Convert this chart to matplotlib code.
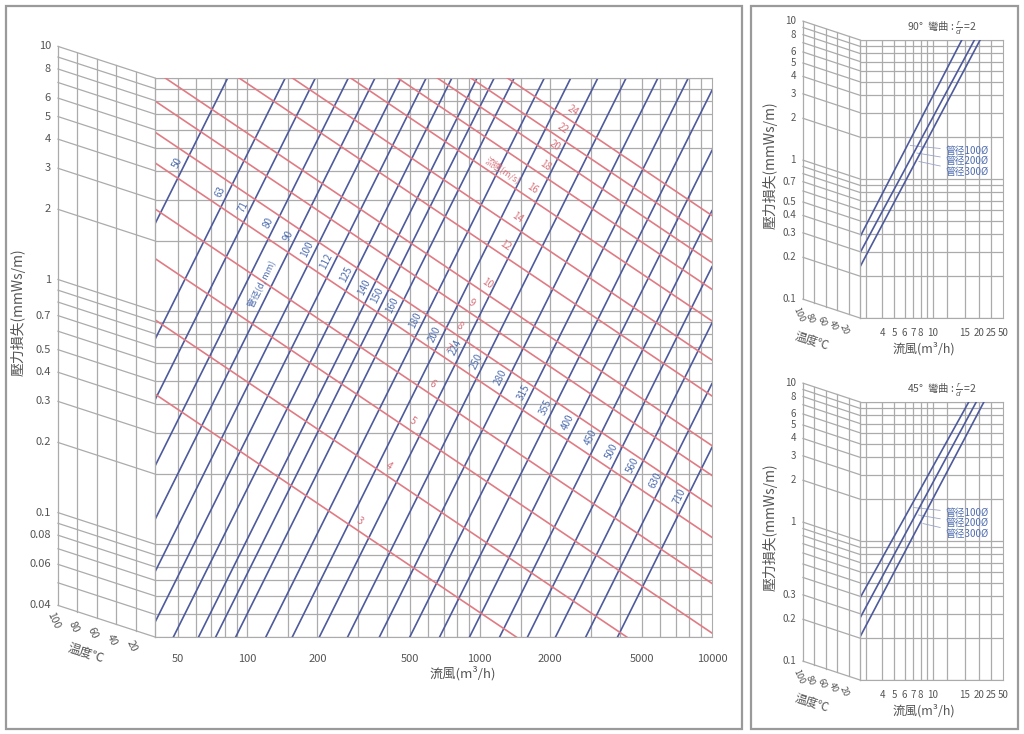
import numpy as np
import matplotlib
matplotlib.use("Agg")
import matplotlib.pyplot as plt
from matplotlib.patches import Rectangle
from matplotlib.ticker import NullLocator

plt.rcParams["font.family"] = ["Noto Sans CJK TC", "DejaVu Sans"]
plt.rcParams["mathtext.fontset"] = "dejavusans"

W, H = 1024, 734

# ---- main chart: friction loss of round ducts ----
flow_ticks = [50, 100, 200, 500, 1000, 2000, 5000, 10000]
flow_grid = [50, 60, 70, 80, 90, 100, 150, 200, 300, 400, 500, 600, 700, 800, 900,
             1000, 1500, 2000, 3000, 4000, 5000, 6000, 7000, 8000, 9000]
loss_grid = [0.04, 0.05, 0.06, 0.07, 0.08, 0.09, 0.1, 0.2, 0.3, 0.4, 0.5, 0.6, 0.7,
             0.8, 0.9, 1, 2, 3, 4, 5, 6, 7, 8, 9, 10]
loss_ticks = [10, 8, 6, 5, 4, 3, 2, 1, 0.7, 0.5, 0.4, 0.3, 0.2, 0.1, 0.08, 0.06, 0.04]
temp_ticks = [100, 80, 60, 40, 20]

duct_d = [50, 63, 71, 80, 90, 100, 112, 125, 140, 150, 160, 180, 200, 224, 250, 280,
          315, 355, 400, 450, 500, 560, 630, 710]
# flow (m3/h) at which each diameter line crosses 1 mmWs/m
duct_q1 = [26, 46, 62, 86, 112, 145, 186, 240, 308, 365, 445, 600, 780, 1020, 1350,
           1850, 2500, 3360, 4520, 6090, 8030, 10600, 14300, 19600]
duct_slope = 2.0

vel = [3, 4, 5, 6, 7, 8, 9, 10, 12, 14, 16, 18, 20, 22, 24]
# one point read on each velocity line (flow m3/h, loss mmWs/m)
vel_q = [305, 407, 516, 623, 723, 822, 926, 1075, 1285, 1447, 1678, 1910, 2108, 2283, 2520]
vel_p = [0.113, 0.194, 0.303, 0.436, 0.622, 0.773, 0.971, 1.18, 1.71, 2.25, 3.0, 3.76,
         4.58, 5.42, 6.47]
vel_slope = -0.67

# ---- small charts: bends ----
bend_flow_ticks = [4, 5, 6, 7, 8, 10, 15, 20, 25, 50]
bend_flow_grid = [3, 4, 5, 6, 7, 8, 9, 10, 12, 15, 20, 25]
bend_loss_grid = [0.1, 0.2, 0.3, 0.4, 0.5, 0.6, 0.7, 0.8, 0.9, 1, 2, 3, 4, 5, 6, 7, 8, 9, 10]
b90_ticks = [10, 8, 6, 5, 4, 3, 2, 1, 0.7, 0.5, 0.4, 0.3, 0.2, 0.1]
b45_ticks = [10, 8, 6, 5, 4, 3, 2, 1, 0.3, 0.2, 0.1]
bend_names = ["管径100Ø", "管径200Ø", "管径300Ø"]
b90_q0 = [2.69, 2.69, 2.69]
b90_p0 = [0.383, 0.294, 0.233]
b90_q1 = [14.4, 18.2, 20.4]
b90_p1 = [10, 10, 10]
b45_q0 = [2.69, 2.69, 2.69]
b45_p0 = [0.389, 0.279, 0.204]
b45_q1 = [16.2, 18.9, 21.9]
b45_p1 = [10, 10, 10]

GRID = "#ababab"
BLUE = "#4d5a9c"
BLUE_TXT = "#4f6db0"
RED = "#e07b84"
RED_TXT = "#d9707a"
TXT = "#555555"
T0 = 273.0
r100 = (T0 + 100) / T0


def box(l, t, r, b):
    return [l / W, 1 - b / H, (r - l) / W, (b - t) / H]


def fpos(x, y):
    return x / W, 1 - y / H


def temp_panel(ax, grid_vals, lo, hi, tick_vals, fs):
    ax.set_xlim(100, 0)
    ax.set_yscale("log")
    ax.set_ylim(lo, hi)
    ax.axis("off")
    for p in grid_vals:
        ax.plot([100, 0], [p * r100, p], color=GRID, lw=0.9, clip_on=False)
    for t in temp_ticks + [0]:
        f = r100 ** (t / 100)
        ax.plot([t, t], [lo * f, hi * f], color=GRID, lw=0.9, clip_on=False)
    for v in tick_vals:
        ax.annotate(f"{v:g}", (100, v * r100), xytext=(-5, 0), textcoords="offset points",
                    ha="right", va="center", fontsize=fs, color=TXT, annotation_clip=False)
    for t in temp_ticks:
        f = r100 ** (t / 100)
        ax.annotate(str(t), (t, lo * f), xytext=(-3, -11), textcoords="offset points",
                    ha="center", va="center", rotation=-65, fontsize=fs - 0.5, color=TXT,
                    annotation_clip=False)


fig = plt.figure(figsize=(W / 100, H / 100), dpi=100)
fig.patch.set_facecolor("white")

for l, t, r, b in [(6, 6, 742, 729), (751, 6, 1018, 729)]:
    fig.add_artist(Rectangle(fpos(l, b), (r - l) / W, (b - t) / H, transform=fig.transFigure,
                             fill=False, ec="#9a9a9a", lw=1.6))

# ---------------- main chart ----------------
ax = fig.add_axes(box(155, 78, 712, 637))
ax.set_xscale("log")
ax.set_yscale("log")
ax.set_xlim(40, 10000)
ax.set_ylim(0.04, 10)
for q in flow_grid:
    ax.axvline(q, color=GRID, lw=0.9, zorder=1)
for p in loss_grid:
    ax.axhline(p, color=GRID, lw=0.9, zorder=1)
for s in ax.spines.values():
    s.set_color(GRID)
ax.set_xticks(flow_ticks, labels=[str(v) for v in flow_ticks])
ax.xaxis.set_minor_locator(NullLocator())
ax.set_yticks([])
ax.yaxis.set_minor_locator(NullLocator())
ax.tick_params(length=0, pad=12, labelsize=8, labelcolor=TXT)

for q1 in duct_q1:
    ax.axline((q1, 1.0), (q1 * 10, 10 ** duct_slope), color=BLUE, lw=1.2, zorder=2)
for q, p in zip(vel_q, vel_p):
    ax.axline((q, p), (q * 10, p * 10 ** vel_slope), color=RED, lw=1.2, zorder=3)

# diameter labels sit along a guide line across the chart
g_q0, g_p0, g_s = 51.8, 4.31, -0.663
ang_b = np.degrees(np.arctan(duct_slope))
for d, q1 in zip(duct_d, duct_q1):
    lq = (np.log10(g_p0) - g_s * np.log10(g_q0) + duct_slope * np.log10(q1)) / (duct_slope - g_s)
    lp = duct_slope * (lq - np.log10(q1))
    ax.annotate(str(d), (10 ** lq, 10 ** lp), xytext=(-5, 2), textcoords="offset points",
                rotation=ang_b, ha="center", va="center", fontsize=7, color=BLUE_TXT, zorder=5)
ax.text(116, 1.3, "管径(d, mm)", rotation=ang_b, ha="center", va="center", fontsize=6.5,
        color=BLUE_TXT, zorder=5)

ang_r = np.degrees(np.arctan(vel_slope))
for v, q, p in zip(vel, vel_q, vel_p):
    ax.annotate(str(v), (q, p), xytext=(0, 8), textcoords="offset points", rotation=ang_r,
                ha="center", va="center", fontsize=7, color=RED_TXT, zorder=5)
ax.text(1260, 4.0, "流速(m/s)", rotation=ang_r, ha="center", va="center", fontsize=6.5,
        color=RED_TXT, zorder=5)

axl = fig.add_axes(box(58, 78, 155, 637))
temp_panel(axl, loss_grid, 0.04, 10, loss_ticks, 8)

fig.text(*fpos(18, 312), "壓力損失(mmWs/m)", rotation=90, ha="center", va="center",
         fontsize=10, color=TXT)
fig.text(*fpos(463, 673), "流風(m³/h)", ha="center", va="center", fontsize=9.5, color=TXT)
fig.text(*fpos(86, 653), "温度℃", ha="center", va="center", rotation=-18, fontsize=9,
         color=TXT)

# ---------------- bend charts ----------------
sc_q = np.log10([2.69, 10, 15, 20, 25, 50])
sc_f = np.array([0, 73, 105, 119, 131, 143]) / 143.0


def fwd(x):
    return np.interp(np.log10(np.clip(x, 1e-6, None)), sc_q, sc_f)


def inv(y):
    return 10 ** np.interp(y, sc_f, sc_q)


def bend_chart(top, title, ticks, q0, p0, q1, p1):
    a = fig.add_axes(box(860, top, 1003, top + 278))
    a.set_xscale("function", functions=(fwd, inv))
    a.set_yscale("log")
    a.set_xlim(2.69, 50)
    a.set_ylim(0.1, 10)
    for q in bend_flow_grid:
        a.axvline(q, color=GRID, lw=0.9, zorder=1)
    for p in bend_loss_grid:
        a.axhline(p, color=GRID, lw=0.9, zorder=1)
    for s in a.spines.values():
        s.set_color(GRID)
    a.set_xticks(bend_flow_ticks, labels=[str(v) for v in bend_flow_ticks])
    a.xaxis.set_minor_locator(NullLocator())
    a.set_yticks([])
    a.yaxis.set_minor_locator(NullLocator())
    a.tick_params(length=0, pad=7, labelsize=7, labelcolor=TXT)
    for i in range(len(q0)):
        a.plot([q0[i], q1[i]], [p0[i], p1[i]], color=BLUE, lw=1.2, zorder=3)
        # leader from the line to its name
        pl = [1.75, 1.55, 1.35][i]
        t = (np.log10(pl) - np.log10(p0[i])) / (np.log10(p1[i]) - np.log10(p0[i]))
        xl = inv(fwd(q0[i]) + t * (fwd(q1[i]) - fwd(q0[i])))
        a.annotate(bend_names[i], (xl, pl), xytext=(0.6, 0.6 - 0.037 * i),
                   textcoords="axes fraction", ha="left", va="center", fontsize=7,
                   color=BLUE_TXT, arrowprops=dict(arrowstyle="-", color="#9aa4c8", lw=0.6))
    a.text(0.57, 1.01, title, transform=a.transAxes, ha="center", va="bottom", fontsize=7.5,
           color=TXT)
    al = fig.add_axes(box(803, top, 860, top + 278))
    temp_panel(al, bend_loss_grid, 0.1, 10, ticks, 7)
    fig.text(*fpos(770, top + 125), "壓力損失(mmWs/m)", rotation=90, ha="center",
             va="center", fontsize=10, color=TXT)
    fig.text(*fpos(924, top + 309), "流風(m³/h)", ha="center", va="center", fontsize=9,
             color=TXT)
    fig.text(*fpos(812, top + 301), "温度℃", ha="center", va="center", rotation=-18,
             fontsize=8.5, color=TXT)


bend_chart(40, "90°  彎曲 : $\\frac{r}{d}$ =2", b90_ticks, b90_q0, b90_p0, b90_q1, b90_p1)
bend_chart(402, "45°  彎曲 : $\\frac{r}{d}$ =2", b45_ticks, b45_q0, b45_p0, b45_q1, b45_p1)

fig.savefig("out.png", dpi=100)
